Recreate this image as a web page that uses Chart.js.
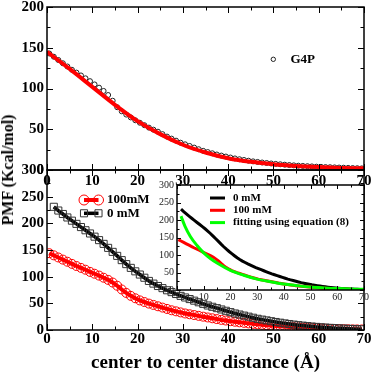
<!DOCTYPE html>
<html>
<head>
<meta charset="utf-8">
<script src="https://cdn.jsdelivr.net/npm/chart.js@4.4.1/dist/chart.umd.min.js"></script>
<style>
  body { margin: 0; background: #fff; }
  #cadre { position: relative; width: 374px; height: 374px; }
  #cadre canvas { position: absolute; left: 0; top: 0; }
  #titreY {
    position: absolute; left: 8px; top: 170px;
    transform: translate(-50%, -50%) rotate(-90deg);
    font: bold 16px 'Liberation Serif', serif; white-space: nowrap; color: #000;
  }
</style>
</head>
<body>
<div id="cadre">
  <canvas id="haut" width="374" height="374"></canvas>
  <canvas id="bas" width="374" height="374"></canvas>
  <canvas id="encart" width="374" height="374"></canvas>
  <div id="titreY">PMF (Kcal/mol)</div>
</div>
<script>
// distances (Å) des points simules
var distance = [0.5, 1.5, 2.5, 3.5, 4.5, 5.5, 6.5, 7.5, 8.5, 9.5,
  10.5, 11.5, 12.5, 13.5, 14.5, 15.5, 16.5, 17.5, 18.5, 19.5,
  20.5, 21.5, 22.5, 23.5, 24.5, 25.5, 26.5, 27.5, 28.5, 29.5,
  30.5, 31.5, 32.5, 33.5, 34.5, 35.5, 36.5, 37.5, 38.5, 39.5,
  40.5, 41.5, 42.5, 43.5, 44.5, 45.5, 46.5, 47.5, 48.5, 49.5,
  50.5, 51.5, 52.5, 53.5, 54.5, 55.5, 56.5, 57.5, 58.5, 59.5,
  60.5, 61.5, 62.5, 63.5, 64.5, 65.5, 66.5, 67.5, 68.5, 69.5];

// graph du haut : G4P
var pmfG4P = [143, 139, 135, 131, 127, 123, 119.5, 116, 112.5, 109,
  105, 101, 97, 92, 85, 77, 72, 68, 64.5, 61,
  58, 55, 52, 49.5, 47, 44, 41, 38.5, 36, 33.5,
  31.5, 29.5, 27.5, 25.5, 23.5, 22, 20.5, 19, 17.7, 16.5,
  15.3, 14.2, 13.2, 12.3, 11.4, 10.6, 9.9, 9.2, 8.6, 8,
  7.5, 7, 6.5, 6.1, 5.7, 5.3, 5, 4.7, 4.4, 4.1,
  3.9, 3.6, 3.4, 3.2, 3, 2.8, 2.6, 2.4, 2.2, 2];
var distFitG4P = [0, 5, 10, 15, 20, 25, 30, 35, 40, 45, 50, 55, 60, 65, 70];
var pmfFitG4P = [145, 124, 102, 80, 60, 44, 31, 21.5, 14.5, 10, 7, 5, 3.6, 2.6, 2];

// graph du bas : 100mM et 0 mM
var pmf100mM = [144, 140, 136, 132, 128, 124, 120, 116.5, 113, 109,
  105.5, 102, 98, 94, 89, 83, 76, 69.5, 64, 59.5,
  55.5, 52.5, 49.5, 47, 44.5, 42, 39.5, 37, 35, 33,
  31, 29.5, 28, 26.5, 25, 23.5, 22, 20.5, 19, 17.8,
  16.6, 15.5, 14.4, 13.4, 12.4, 11.5, 10.6, 9.8, 9, 8.3,
  7.6, 7, 6.4, 5.8, 5.3, 4.8, 4.3, 3.9, 3.5, 3.1,
  2.8, 2.5, 2.2, 2, 1.8, 1.6, 1.4, 1.2, 1.1, 1];
var pmf0mM = [null, 231, 224, 217.5, 211, 205, 199, 193, 187, 181,
  175, 168.5, 161.5, 154, 146.5, 139, 131, 123.5, 116.5, 110,
  104, 98, 92, 87, 82.5, 78.5, 74.5, 71, 67.5, 64,
  61, 58, 55, 52, 49, 46, 43.5, 41, 38.5, 36,
  33.5, 31, 29, 27, 25, 23, 21, 19.5, 18, 16.5,
  15, 13.7, 12.4, 11.2, 10.1, 9.1, 8.2, 7.3, 6.5, 5.8,
  5.1, 4.5, 4, 3.5, 3, 2.6, 2.2, 1.9, 1.6, 1.3];

// encart : fitting using equation (8)
var distFit = [1.5, 3, 5, 7.5, 10, 12.5, 15, 20, 25, 30, 35, 40, 45, 50, 55, 60, 65, 70];
var pmfFit = [211, 182, 153, 127, 106, 90, 77, 56, 42, 31, 23.5, 17, 12.5, 8.5, 6, 4, 3, 2];

function points(xs, ys) {
  var res = [];
  for (var i = 0; i < xs.length; i++) {
    if (ys[i] !== null) res.push({ x: xs[i], y: ys[i] });
  }
  return res;
}

// taille fixe des axes pour placer les zones de trace au pixel pres
function fixe(taille) {
  return function (scale) {
    if (scale.isHorizontal()) scale.height = taille; else scale.width = taille;
    scale.paddingTop = 0; scale.paddingBottom = 0;
    scale.paddingLeft = 0; scale.paddingRight = 0;
  };
}

var serif = "'Liberation Serif', serif";
var fontGras = { family: serif, weight: 'bold', size: 15 };
var fontEncart = { family: serif, size: 10 };

// petits traits vers l'interieur sur les 4 cotes + cadre
var traitsInternes = {
  id: 'traitsInternes',
  afterDraw: function (chart, args, o) {
    var ctx = chart.ctx, a = chart.chartArea, x = chart.scales.x, y = chart.scales.y;
    var i, l, p;
    ctx.save();
    ctx.strokeStyle = '#000';
    ctx.lineWidth = 1;
    ctx.beginPath();
    for (i = 0; x.min + i * o.pasX / 2 <= x.max + 1e-6; i++) {
      p = Math.round(x.getPixelForValue(x.min + i * o.pasX / 2)) + 0.5;
      l = i % 2 ? o.petit : o.grand;
      ctx.moveTo(p, a.top); ctx.lineTo(p, a.top + l);
      ctx.moveTo(p, a.bottom); ctx.lineTo(p, a.bottom - l);
    }
    for (i = 0; y.min + i * o.pasY / 2 <= y.max + 1e-6; i++) {
      p = Math.round(y.getPixelForValue(y.min + i * o.pasY / 2)) + 0.5;
      l = i % 2 ? o.petit : o.grand;
      ctx.moveTo(a.left, p); ctx.lineTo(a.left + l, p);
      ctx.moveTo(a.right, p); ctx.lineTo(a.right - l, p);
    }
    ctx.stroke();
    ctx.lineWidth = 1.5;
    ctx.strokeRect(a.left, a.top, a.right - a.left, a.bottom - a.top);
    ctx.restore();
  }
};

// fond blanc de l'encart
var fondBlanc = {
  id: 'fondBlanc',
  beforeDraw: function (chart, args, o) {
    if (!o.actif) return;
    var a = chart.chartArea;
    chart.ctx.save();
    chart.ctx.fillStyle = '#fff';
    chart.ctx.fillRect(a.left, a.top, a.right - a.left, a.bottom - a.top);
    chart.ctx.restore();
  }
};

function dessinePoint(ctx, ds, x, y, r) {
  ctx.beginPath();
  if (ds.pointStyle === 'rect') {
    var s = r * Math.SQRT1_2;
    ctx.rect(x - s, y - s, 2 * s, 2 * s);
  } else {
    ctx.arc(x, y, r, 0, Math.PI * 2);
  }
  ctx.strokeStyle = ds.pointBorderColor;
  ctx.lineWidth = ds.pointBorderWidth || 1;
  ctx.stroke();
}

// legende placee a la main
var legendeFixe = {
  id: 'legendeFixe',
  afterDraw: function (chart, args, o) {
    if (!o.items) return;
    var ctx = chart.ctx;
    ctx.save();
    ctx.font = o.font;
    ctx.textBaseline = 'middle';
    o.items.forEach(function (it, i) {
      var ds = chart.data.datasets[it.ds];
      var y = o.y + i * (o.pas || 0);
      if (it.trait) {
        ctx.beginPath();
        ctx.strokeStyle = ds.borderColor;
        ctx.lineWidth = ds.borderWidth;
        ctx.moveTo(o.x, y);
        ctx.lineTo(o.x + o.long, y);
        ctx.stroke();
      }
      if (it.bouts) {
        dessinePoint(ctx, ds, o.x, y, o.rayon);
        dessinePoint(ctx, ds, o.x + o.long, y, o.rayon);
      }
      if (it.centre) dessinePoint(ctx, ds, o.x, y, o.rayon);
      ctx.fillStyle = '#000';
      ctx.fillText(ds.label, o.xTexte, y);
    });
    ctx.restore();
  }
};

var base = {
  responsive: false,
  animation: false,
  events: []
};

function axe(min, max, pas, taille, police, pad, extra) {
  var a = {
    type: 'linear', min: min, max: max,
    afterFit: fixe(taille),
    grid: { display: false, drawTicks: false },
    border: { display: false },
    ticks: { stepSize: pas, padding: pad, font: police, color: '#000' }
  };
  for (var k in extra) a[k] = extra[k];
  return a;
}

// graph n1 : G4P
new Chart('haut', {
  type: 'line',
  data: {
    datasets: [{
      label: 'fit',
      data: points(distFitG4P, pmfFitG4P),
      borderColor: '#ff0000',
      borderWidth: 4,
      pointRadius: 0,
      cubicInterpolationMode: 'monotone'
    }, {
      label: 'G4P',
      data: points(distance, pmfG4P),
      showLine: false,
      pointStyle: 'circle',
      pointRadius: 2.5,
      pointBorderWidth: 1,
      pointBorderColor: '#222',
      pointBackgroundColor: 'rgba(0,0,0,0)'
    }]
  },
  options: Object.assign({}, base, {
    layout: { padding: { left: 0, top: 7, right: 10, bottom: 180 } },
    plugins: {
      legend: { display: false },
      tooltip: { enabled: false },
      traitsInternes: { pasX: 10, pasY: 50, grand: 6, petit: 3.5 },
      legendeFixe: { x: 273.3, y: 59.3, rayon: 2.2, xTexte: 290.5,
        font: 'bold 13px ' + serif, items: [{ ds: 1, centre: true }] }
    },
    scales: {
      x: axe(0, 70, 10, 24, fontGras, 2),
      y: axe(0, 200, 50, 47, fontGras, 3)
    }
  }),
  plugins: [traitsInternes, legendeFixe]
});

// graph n2 : 100mM / 0 mM
new Chart('bas', {
  type: 'line',
  data: {
    datasets: [{
      label: '0 mM',
      data: points(distance, pmf0mM),
      borderColor: '#000',
      borderWidth: 3.5,
      pointStyle: 'rect',
      pointRadius: 5,
      pointBorderWidth: 1,
      pointBorderColor: '#333',
      pointBackgroundColor: 'rgba(0,0,0,0)',
      tension: 0
    }, {
      label: '100mM',
      data: points(distance, pmf100mM),
      borderColor: '#ff0000',
      borderWidth: 4,
      pointStyle: 'circle',
      pointRadius: 4.5,
      pointBorderWidth: 1,
      pointBorderColor: '#ff0000',
      pointBackgroundColor: 'rgba(0,0,0,0)',
      tension: 0
    }]
  },
  options: Object.assign({}, base, {
    layout: { padding: { left: 0, top: 170, right: 10, bottom: 0 } },
    plugins: {
      legend: { display: false },
      tooltip: { enabled: false },
      traitsInternes: { pasX: 10, pasY: 50, grand: 6, petit: 3.5 },
      legendeFixe: { x: 84, long: 14.5, y: 200, pas: 13.3, rayon: 5, xTexte: 107,
        font: 'bold 13px ' + serif,
        items: [{ ds: 1, trait: true, bouts: true }, { ds: 0, trait: true, bouts: true }] }
    },
    scales: {
      x: axe(0, 70, 10, 44, fontGras, 0, {
        title: { display: true, text: 'center to center distance (Å)', color: '#000',
          padding: 0, font: { family: serif, weight: 'bold', size: 19 } }
      }),
      y: axe(0, 300, 50, 47, fontGras, 3)
    }
  }),
  plugins: [traitsInternes, legendeFixe]
});

// graph n3 : encart
var axeXEncart = axe(0, 70, 10, 14, fontEncart, 1);
axeXEncart.ticks.color = '#222';
axeXEncart.ticks.callback = function (v) { return v === 0 ? '' : v; };
var axeYEncart = axe(0, 300, 50, 30, fontEncart, 3);
axeYEncart.ticks.color = '#222';

new Chart('encart', {
  type: 'line',
  data: {
    datasets: [{
      label: 'fitting using equation (8)',
      data: points(distFit, pmfFit),
      borderColor: '#00ff00',
      borderWidth: 3,
      pointRadius: 0,
      cubicInterpolationMode: 'monotone'
    }, {
      label: '100 mM',
      data: points(distance, pmf100mM),
      borderColor: '#ff0000',
      borderWidth: 3,
      pointRadius: 0
    }, {
      label: '0 mM',
      data: points(distance, pmf0mM),
      borderColor: '#000',
      borderWidth: 3,
      pointRadius: 0
    }]
  },
  options: Object.assign({}, base, {
    layout: { padding: { left: 147, top: 185, right: 10, bottom: 70 } },
    plugins: {
      legend: { display: false },
      tooltip: { enabled: false },
      fondBlanc: { actif: true },
      traitsInternes: { pasX: 10, pasY: 50, grand: 4, petit: 2.5 },
      legendeFixe: { x: 210, long: 15, y: 198, pas: 12.3, xTexte: 233,
        font: 'bold 11px ' + serif,
        items: [{ ds: 2, trait: true }, { ds: 1, trait: true }, { ds: 0, trait: true }] }
    },
    scales: { x: axeXEncart, y: axeYEncart }
  }),
  plugins: [fondBlanc, traitsInternes, legendeFixe]
});
</script>
</body>
</html>
